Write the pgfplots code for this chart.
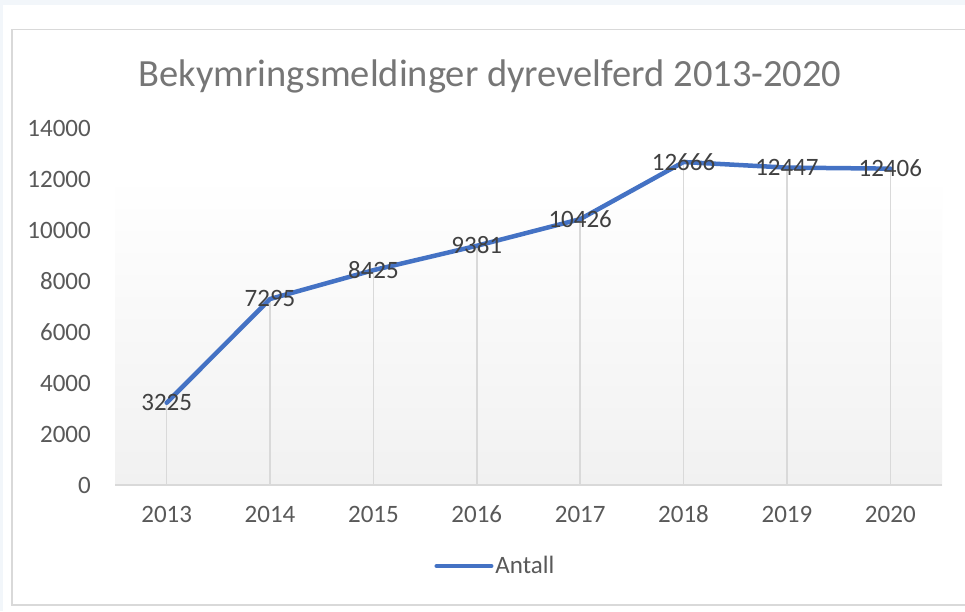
\documentclass[border=0pt]{standalone}
\usepackage{pgfplots}
\pgfplotsset{compat=1.18}
\usepackage{fontspec}
\setmainfont{Carlito}
\definecolor{pagebg}{RGB}{242,246,250}
\definecolor{framec}{RGB}{217,217,217}
\definecolor{titlec}{RGB}{118,118,118}
\definecolor{tickc}{RGB}{89,89,89}
\definecolor{labelc}{RGB}{64,64,64}
\definecolor{linec}{RGB}{68,114,196}
\definecolor{gridc}{RGB}{217,217,217}
\definecolor{gradbot}{RGB}{241,241,241}
\begin{document}
\begin{tikzpicture}
\path[use as bounding box] (0,0) rectangle (965pt,611pt);
\fill[pagebg] (0,0) rectangle (965pt,611pt);
\fill[white] (2.5pt,0) rectangle (965pt,606pt);
\draw[framec, line width=1.5pt] (970pt,581.5pt) -- (12pt,581.5pt) -- (12pt,6pt) -- (970pt,6pt);
\node[text=titlec, font=\fontsize{38.5}{44}\selectfont, anchor=base] at (490pt,524pt) {Bekymringsmeldinger dyrevelferd 2013-2020};
\begin{axis}[
  at={(115pt,126pt)}, anchor=south west,
  scale only axis, width=827pt, height=357pt,
  xmin=-0.5, xmax=7.5, ymin=0, ymax=14000,
  xtick={0,1,2,3,4,5,6,7},
  xticklabels={2013,2014,2015,2016,2017,2018,2019,2020},
  ytick={0,2000,4000,6000,8000,10000,12000,14000},
  scaled y ticks=false,
  /pgf/number format/assume math mode=true,
  /pgf/number format/1000 sep={},
  major tick length=0pt,
  axis x line*=bottom, axis y line*=left,
  x axis line style={draw=framec, line width=1.5pt, -},
  y axis line style={draw=none},
  tick label style={font=\fontsize{25}{29}\selectfont, text=tickc},
  yticklabel style={anchor=base east, inner sep=0pt, xshift=-24pt, yshift=-8pt},
  xticklabel style={anchor=base, inner sep=0pt, yshift=-37pt},
  legend style={at={(axis description cs:0.460,-0.227)}, anchor=center, draw=none, fill=none,
    font=\fontsize{25}{29}\selectfont, text=tickc},
  legend cell align=left,
  clip=false,
]
\path[shade, top color=white, bottom color=gradbot] (axis cs:-0.5,0) rectangle (axis cs:7.5,12150);
\addplot[ycomb, draw=gridc, line width=1.5pt, forget plot] coordinates {
  (0,3225) (1,7295) (2,8425) (3,9381) (4,10426) (5,12666) (6,12447) (7,12406)};
\draw[framec, line width=1.5pt] (axis cs:-0.5,0) -- (axis cs:7.5,0);
\addplot[color=linec, line width=4.5pt, line join=round, line cap=round,
  nodes near coords,
  every node near coord/.append style={anchor=base, yshift=-8pt, font=\fontsize{25}{29}\selectfont, text=labelc, inner sep=0pt},
  legend image code/.code={\draw[linec, line width=4pt, line cap=round] (0pt,0pt) -- (55pt,0pt);}
] coordinates {
  (0,3225) (1,7295) (2,8425) (3,9381) (4,10426) (5,12666) (6,12447) (7,12406)};
\addlegendentry{Antall}
\end{axis}
\end{tikzpicture}
\end{document}
